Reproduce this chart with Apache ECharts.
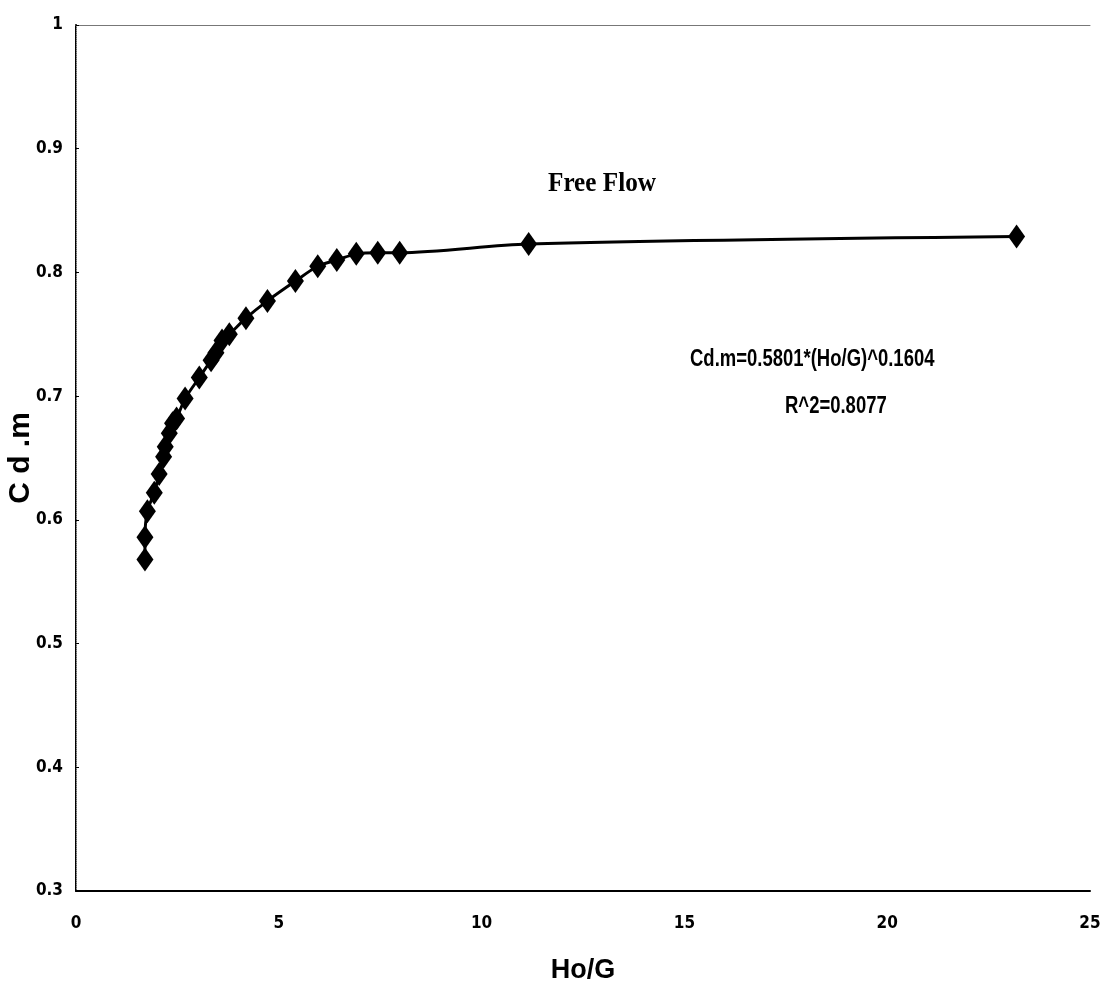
<!DOCTYPE html>
<html>
<head>
<meta charset="utf-8">
<script src="https://cdn.jsdelivr.net/npm/echarts@6/dist/echarts.min.js"></script>
<style>html,body{margin:0;padding:0;background:#fff}#c{width:1107px;height:985px}</style>
</head>
<body>
<div id="c"></div>
<script>
const hoG = [1.70,1.70,1.76,1.93,2.05,2.16,2.20,2.30,2.38,2.48,2.69,3.04,3.33,3.45,3.60,3.78,4.19,4.72,5.41,5.96,6.43,6.91,7.44,7.98,11.16,23.19];
const cdm = [0.568,0.586,0.607,0.622,0.637,0.651,0.659,0.670,0.678,0.682,0.698,0.715,0.729,0.735,0.745,0.750,0.763,0.777,0.793,0.805,0.810,0.815,0.816,0.816,0.823,0.829];
const xTicks = [0,5,10,15,20,25];
const yTicks = [0.3,0.4,0.5,0.6,0.7,0.8,0.9,1];
const seriesName = 'Free Flow';
const equationText = 'Cd.m=0.5801*(Ho/G)^0.1604';
const r2Text = 'R^2=0.8077';

const font = '"DejaVu Sans Condensed", "Liberation Sans Narrow", "Liberation Sans", Arial, sans-serif';
const sans = '"Liberation Sans", Arial, sans-serif';
const chart = echarts.init(document.getElementById('c'), null, {renderer:'canvas'});
chart.setOption({
  backgroundColor:'#fff',
  animation:false,
  grid:{left:76,right:17,top:25,bottom:94,show:false,containLabel:false,outerBoundsMode:'none'},
  graphic:[
    {type:'text',x:548,y:170,scaleX:0.9,style:{text:seriesName,fontFamily:'"Liberation Serif", "Times New Roman", serif',fontWeight:'bold',fontSize:28,fill:'#000'}},
    {type:'text',x:690,y:347,scaleX:0.77,style:{text:equationText,fontFamily:sans,fontWeight:'bold',fontSize:24,fill:'#000'}},
    {type:'text',x:785,y:394,scaleX:0.77,style:{text:r2Text,fontFamily:sans,fontWeight:'bold',fontSize:24,fill:'#000'}}
  ],
  xAxis:[{
    type:'value',min:0,max:25,interval:5,
    name:'Ho/G',nameLocation:'middle',nameGap:66,nameMoveOverlap:false,
    nameTextStyle:{fontFamily:sans,fontWeight:'bold',fontSize:27,color:'#000'},
    axisLine:{show:true,onZero:false,lineStyle:{color:'#000',width:2}},
    axisTick:{show:false},
    splitLine:{show:false},
    axisLabel:{margin:24,fontFamily:font,fontWeight:'bold',fontSize:17,color:'#000',
      formatter:v=>xTicks.includes(v)?String(v):''}
  },{
    type:'value',position:'top',min:0,max:25,
    axisLine:{show:true,lineStyle:{color:'#777',width:1}},
    axisTick:{show:false},axisLabel:{show:false},splitLine:{show:false}
  }],
  yAxis:[{
    type:'value',min:0.3,max:1,interval:0.1,
    name:'C d .m',nameLocation:'middle',nameGap:40,nameRotate:90,nameMoveOverlap:false,
    nameTextStyle:{fontFamily:sans,fontWeight:'bold',fontSize:30,color:'#000'},
    axisLine:{show:true,onZero:false,lineStyle:{color:'#000',width:2}},
    axisTick:{show:true,inside:true,length:3,lineStyle:{color:'#000'}},
    splitLine:{show:false},
    axisLabel:{margin:13,fontFamily:font,fontWeight:'bold',fontSize:17,color:'#000',
      formatter:v=>{const t=yTicks.find(u=>Math.abs(u-v)<1e-6);return t===undefined?'':String(t);}}
  },{
    type:'value',position:'right',min:0.3,max:1,
    axisLine:{show:true,lineStyle:{color:'#999',width:1,type:'dotted'}},
    axisTick:{show:false},axisLabel:{show:false},splitLine:{show:false}
  }],
  series:[{
    name:seriesName,type:'line',xAxisIndex:0,yAxisIndex:0,
    data:hoG.map((x,i)=>[x,cdm[i]]),
    smooth:0.3,
    symbol:'diamond',symbolSize:[17,24],
    lineStyle:{color:'#000',width:3},
    itemStyle:{color:'#000'}
  }]
});
</script>
</body>
</html>
